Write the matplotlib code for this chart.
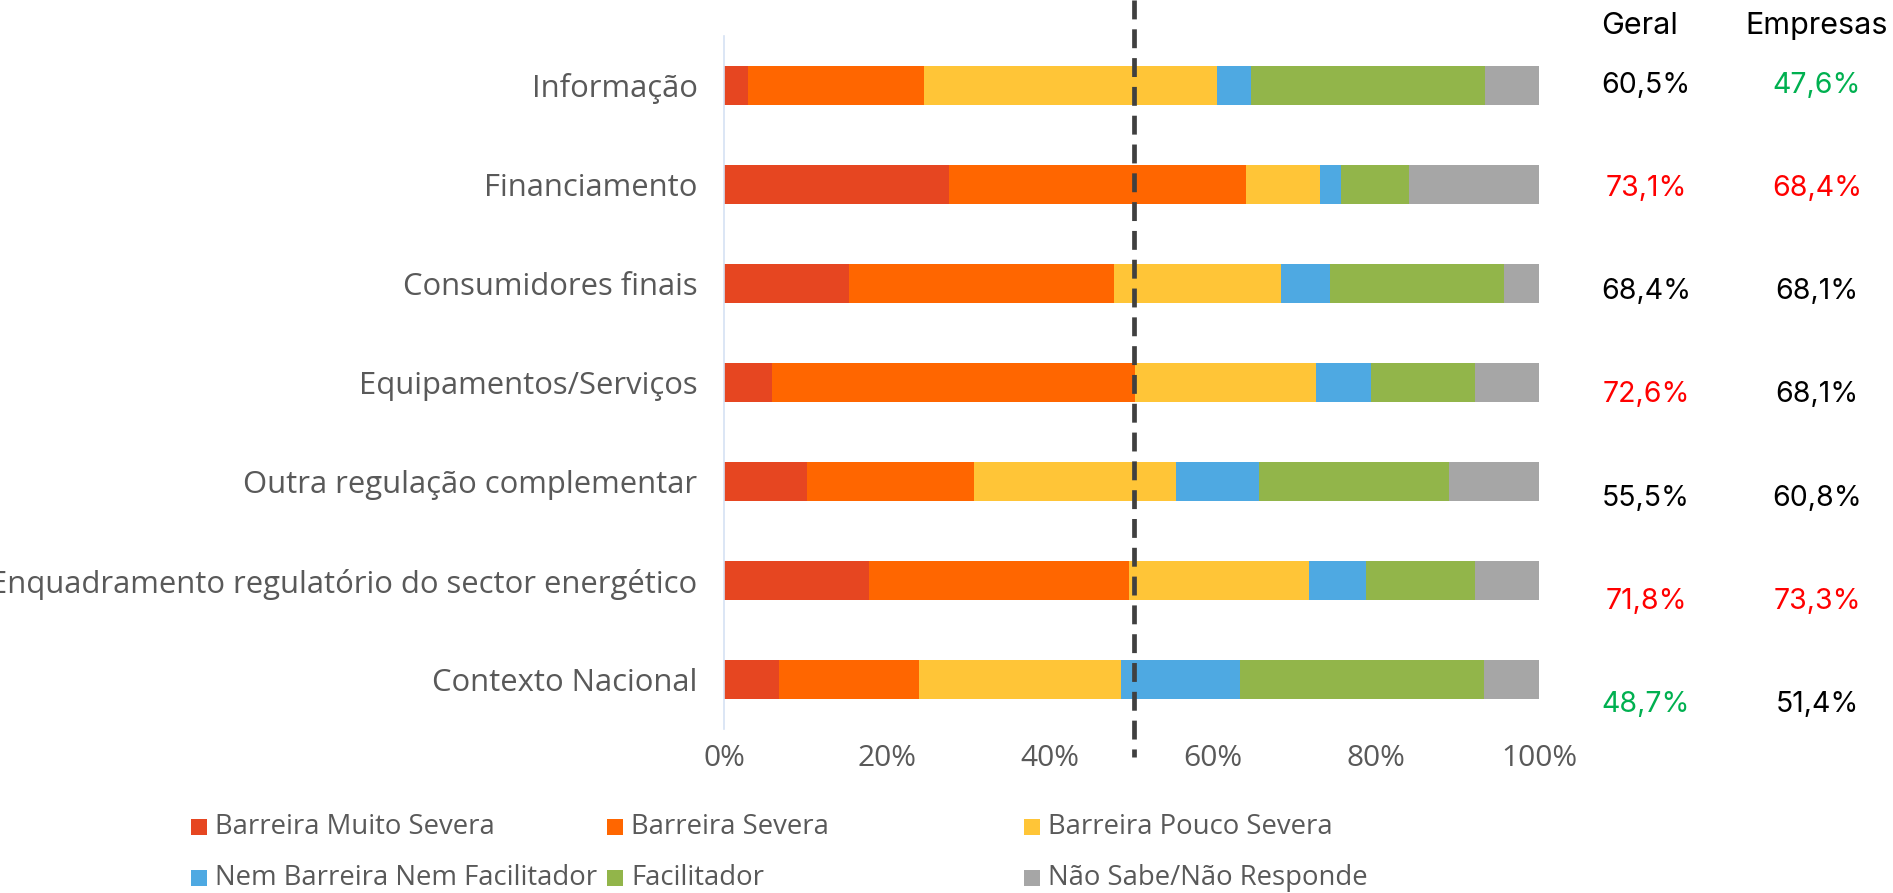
import matplotlib
matplotlib.use("Agg")
import matplotlib.pyplot as plt
from matplotlib.patches import Rectangle
from matplotlib.transforms import blended_transform_factory
import numpy as np

# categories top to bottom
categories = ["Informação", "Financiamento", "Consumidores finais", "Equipamentos/Serviços",
              "Outra regulação complementar", "Enquadramento regulatório do sector energético",
              "Contexto Nacional"]

series_names = ["Barreira Muito Severa", "Barreira Severa", "Barreira Pouco Severa",
                "Nem Barreira Nem Facilitador", "Facilitador", "Não Sabe/Não Responde"]
series_colors = ["#E64621", "#FF6600", "#FFC537", "#4EA9E2", "#92B54A", "#A6A6A6"]

muito_severa = [3.0, 27.6, 15.3, 5.9, 10.2, 17.8, 6.7]
severa = [21.6, 36.5, 32.6, 44.5, 20.5, 31.9, 17.2]
pouco_severa = [35.9, 9.0, 20.5, 22.2, 24.8, 22.1, 24.8]
nem_nem = [4.2, 2.6, 5.9, 6.8, 10.2, 7.0, 14.6]
facilitador = [28.7, 8.3, 21.4, 12.8, 23.2, 13.3, 29.9]
nao_sabe = [6.6, 16.0, 4.3, 7.8, 11.1, 7.9, 6.8]

geral = ["60,5%", "73,1%", "68,4%", "72,6%", "55,5%", "71,8%", "48,7%"]
geral_colors = ["black", "#FF0000", "black", "#FF0000", "black", "#FF0000", "#00B050"]
empresas = ["47,6%", "68,4%", "68,1%", "68,1%", "60,8%", "73,3%", "51,4%"]
empresas_colors = ["#00B050", "#FF0000", "black", "black", "black", "#FF0000", "black"]

ref_line = 50.3

W, H = 1893, 893
fig = plt.figure(figsize=(W / 100, H / 100), dpi=100)
ax = fig.add_axes([724 / W, 1 - 729 / H, 815 / W, 693 / H])

gray_txt = "#595959"
lab_font = "Open Sans"

y = np.arange(len(categories))
left = np.zeros(len(categories))
for vals, name, col in zip([muito_severa, severa, pouco_severa, nem_nem, facilitador, nao_sabe],
                           series_names, series_colors):
    ax.barh(y, vals, left=left, height=0.4, color=col, linewidth=0, label=name)
    left += np.array(vals)

ax.set_xlim(0, 100)
ax.set_ylim(len(categories) - 0.5, -0.5)
ax.set_yticks(y)
ax.set_yticklabels(categories, fontsize=22.3, color=gray_txt, family=lab_font)
ax.set_xticks(np.arange(0, 101, 20))
ax.set_xticklabels([f"{v}%" for v in range(0, 101, 20)], fontsize=21.5, color=gray_txt, family=lab_font)
ax.tick_params(axis="y", length=0, pad=19)
ax.tick_params(axis="x", length=0, pad=11)
for s in ["top", "right", "bottom"]:
    ax.spines[s].set_visible(False)
ax.spines["left"].set_color("#D6E2F3")
ax.spines["left"].set_linewidth(1.2)

# dashed reference line, runs from figure top to below the axis
tr = blended_transform_factory(ax.transData, fig.transFigure)
ax.plot([ref_line, ref_line], [1.0, 1 - 757 / H], transform=tr, clip_on=False,
        color="#404040", linewidth=3.4, dashes=(4.0, 2.1), zorder=5)

# right hand columns
num_font = "Inter"
fig.text(1640 / W, 1 - 26 / H, "Geral", ha="center", va="center", fontsize=22, family=num_font)
fig.text(1817 / W, 1 - 26 / H, "Empresas", ha="center", va="center", fontsize=22, family=num_font)
for i in range(len(categories)):
    yy = 1 - (85 + i * 103.3) / H
    fig.text(1646 / W, yy, geral[i], ha="center", va="center", fontsize=20.5,
             family=num_font, color=geral_colors[i])
    fig.text(1817 / W, yy, empresas[i], ha="center", va="center", fontsize=20.5,
             family=num_font, color=empresas_colors[i])

# legend, fixed columns like the original
leg_x = [191, 607, 1024]
leg_y = [827, 878]
for k, (name, col) in enumerate(zip(series_names, series_colors)):
    cx = leg_x[k % 3]
    cy = leg_y[k // 3]
    fig.patches.append(Rectangle((cx / W, 1 - (cy + 8) / H), 16 / W, 16 / H,
                                 transform=fig.transFigure, color=col, linewidth=0))
    fig.text((cx + 24) / W, 1 - cy / H, name, ha="left", va="center", fontsize=19.8,
             color=gray_txt, family=lab_font)

fig.savefig("out.png", dpi=100, facecolor="white")
